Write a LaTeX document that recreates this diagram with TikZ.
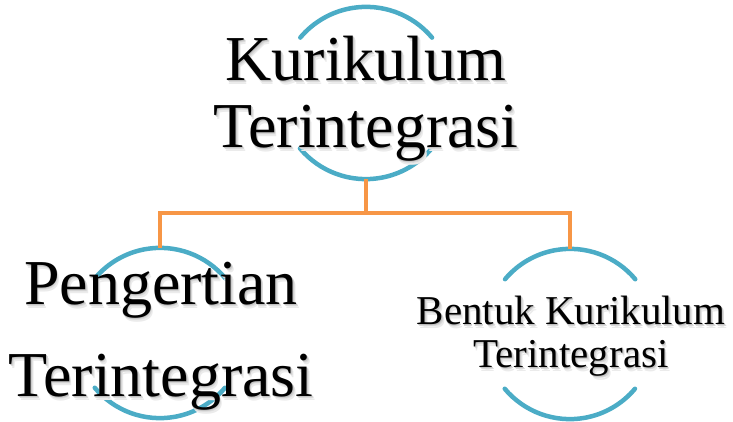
\documentclass[tikz,border=0pt]{standalone}
\usepackage{fontspec}
\setmainfont{Liberation Serif}
\definecolor{ringblue}{HTML}{4BACC6}
\definecolor{linkorange}{HTML}{F79646}
% soft shadow behind a line of text
\newcommand\glowtext[1]{%
  \makebox[0pt][l]{\hspace{2.4pt}\raisebox{-4pt}[0pt][0pt]{\color{black!8}#1}}%
  \makebox[0pt][l]{\hspace{1.6pt}\raisebox{-2.6pt}[0pt][0pt]{\color{black!15}#1}}%
  \makebox[0pt][l]{\hspace{0.8pt}\raisebox{-1.3pt}[0pt][0pt]{\color{black!24}#1}}%
  #1}
\tikzset{
  ring/.style={circle,inner sep=0pt,minimum size=#1},
  arcline/.style={draw=ringblue,line width=4.5pt,line cap=round},
  link/.style={draw=linkorange,line width=4.5pt},
  label/.style={align=center,inner sep=0pt}
}
\begin{document}
\begin{tikzpicture}[x=1pt,y=1pt]
  \useasboundingbox (0,0) rectangle (733,422);
  % rings
  \node[ring=172pt] (kur) at (366,329) {};
  \node[ring=170pt] (peng) at (160,89) {};
  \node[ring=170pt] (bentuk) at (570,88) {};
  \foreach \n/\r in {kur/86,peng/85,bentuk/85} {
    \draw[arcline] (\n.40) arc (40:140:\r);
    \draw[arcline] (\n.220) arc (220:320:\r);
  }
  % connectors
  \draw[link] (kur.south) -- ++(0,-34) coordinate (fork) -| (peng.north);
  \draw[link] (fork) -| (bentuk.north);
  % labels
  \node[label,font=\fontsize{64}{67}\selectfont] (kur-text) at (366,323.5)
    {\glowtext{Kurikulum}\\\glowtext{Terintegrasi}};
  \node[label,font=\fontsize{64}{92}\selectfont] (peng-text) at (161,86)
    {\glowtext{Pengertian}\\\glowtext{Terintegrasi}};
  \node[label,font=\fontsize{41}{43}\selectfont] (bentuk-text) at (571,86)
    {\glowtext{Bentuk Kurikulum}\\\glowtext{Terintegrasi}};
\end{tikzpicture}
\end{document}
